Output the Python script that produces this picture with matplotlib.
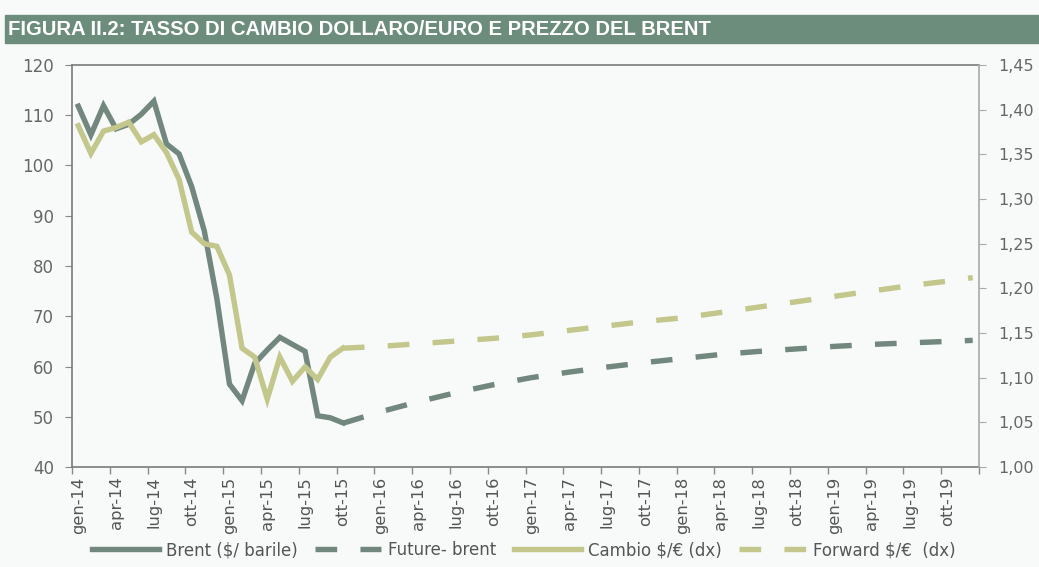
import numpy as np
import matplotlib
matplotlib.use("Agg")
import matplotlib.pyplot as plt
from matplotlib.ticker import FixedLocator, FuncFormatter

plt.rcParams['font.family'] = ['DejaVu Sans']

# mesi gen-14 .. dic-19
mesi_it = ['gen', 'feb', 'mar', 'apr', 'mag', 'giu', 'lug', 'ago', 'set', 'ott', 'nov', 'dic']
mesi = [f"{m}-{a}" for a in range(14, 20) for m in mesi_it]

# dati storici gen-14 .. ott-15
brent = [111.8, 106.1, 111.9, 107.3, 108.2, 110.2, 112.8, 104.3, 102.3, 95.8, 87.0,
         73.5, 56.5, 53.2, 60.6, 63.3, 65.8, 64.4, 63.0, 50.2, 49.8, 48.8]
cambio = [1.382, 1.351, 1.376, 1.380, 1.386, 1.364, 1.372, 1.352, 1.322, 1.263, 1.250,
          1.247, 1.215, 1.133, 1.123, 1.076, 1.123, 1.096, 1.112, 1.098, 1.123, 1.133]

# curve future / forward (letture trimestrali dal grafico)
fut_mesi = ['ott-15', 'gen-16', 'apr-16', 'lug-16', 'ott-16', 'gen-17', 'apr-17', 'lug-17',
            'ott-17', 'gen-18', 'apr-18', 'lug-18', 'ott-18', 'gen-19', 'apr-19', 'lug-19',
            'ott-19', 'dic-19']
future_brent = [48.7, 51.0, 53.0, 54.8, 56.4, 57.8, 58.9, 59.9, 60.8, 61.6, 62.4, 63.0,
                63.5, 64.0, 64.4, 64.7, 65.0, 65.2]
forward = [1.133, 1.135, 1.138, 1.141, 1.144, 1.148, 1.153, 1.158, 1.163, 1.167, 1.173,
           1.179, 1.185, 1.191, 1.197, 1.203, 1.208, 1.212]

c_brent = '#72877d'
c_cambio = '#c4c78b'
bg = '#f8fafa'
txt = '#666666'

fig = plt.figure(figsize=(10.39, 5.67), dpi=100, facecolor=bg)

# barra del titolo
fig.patches.append(plt.Rectangle((5/1039, 1-43/567), 1034/1039, 28/567,
                                 transform=fig.transFigure, color='#6c8c7c', zorder=0))
fig.text(8/1039, 1-29.5/567, 'FIGURA II.2: TASSO DI CAMBIO DOLLARO/EURO E PREZZO DEL BRENT',
         color='white', fontsize=14.6, fontweight='bold', va='center', ha='left',
         family='Liberation Sans')

ax = fig.add_axes([72/1039, 1-467/567, 907/1039, 402/567])
ax.set_facecolor(bg)
ax2 = ax.twinx()

x_hist = np.arange(len(brent))
x_fut = [mesi.index(m) for m in fut_mesi]

lw = 3.9
l1, = ax.plot(x_hist, brent, color=c_brent, lw=lw, solid_joinstyle='miter',
              label='Brent ($/ barile)')
l2, = ax.plot(x_fut, future_brent, color=c_brent, lw=lw, dashes=(4, 4.3),
              label='Future- brent')
l3, = ax2.plot(x_hist, cambio, color=c_cambio, lw=lw, solid_joinstyle='miter',
               label='Cambio $/€ (dx)')
l4, = ax2.plot(x_fut, forward, color=c_cambio, lw=lw, dashes=(4, 4.3),
               label='Forward $/€  (dx)')

ax.set_xlim(-0.5, len(mesi) - 0.5)
ax.set_ylim(40, 120)
ax.set_yticks(range(40, 121, 10))
ax2.set_ylim(1.00, 1.45)
ax2.set_yticks(np.arange(1.00, 1.451, 0.05))
ax2.yaxis.set_major_formatter(FuncFormatter(lambda v, p: f"{v:.2f}".replace('.', ',')))

# etichette mensili ogni 3 mesi, tacche tra le categorie
pos = list(range(0, len(mesi), 3))
ax.set_xticks(pos)
ax.set_xticklabels([mesi[i] for i in pos], rotation=90, fontsize=11.8, color='#555555')
ax.tick_params(axis='x', which='major', length=0, pad=7)
ax.xaxis.set_minor_locator(FixedLocator(np.arange(-0.5, len(mesi), 3)))
ax.tick_params(axis='x', which='minor', length=5, color='#888888', width=1)

ax.tick_params(axis='y', length=5, color='#888888', labelsize=12, labelcolor=txt, pad=8)
ax2.tick_params(axis='y', length=5, color='#aaaaaa', labelsize=11.5, labelcolor=txt, pad=9)

for s in ['left', 'bottom', 'top']:
    ax.spines[s].set_color('#7a7a7a')
    ax.spines[s].set_linewidth(1.2)
ax.spines['right'].set_visible(False)
for s in ['left', 'bottom', 'top']:
    ax2.spines[s].set_visible(False)
ax2.spines['right'].set_color('#a8a8a8')
ax2.spines['right'].set_linewidth(1.2)

leg = fig.legend(handles=[l1, l2, l3, l4], loc='center', bbox_to_anchor=(0.504, 1-550/567),
                 ncol=4, frameon=False, fontsize=12, handlelength=4.0, handletextpad=0.42,
                 columnspacing=1.05, borderpad=0, borderaxespad=0)
for t in leg.get_texts():
    t.set_color('#555555')

fig.savefig('out.png', dpi=100, facecolor=bg)
